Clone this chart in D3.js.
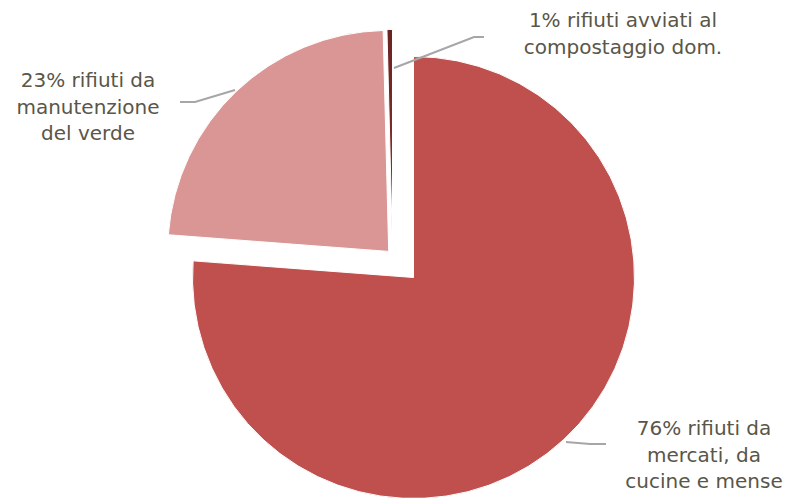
<!DOCTYPE html>
<html>
<head>
<meta charset="utf-8">
<script src="https://cdn.jsdelivr.net/npm/d3@7"></script>
<style>
  html, body { margin: 0; padding: 0; background: #fff; }
  svg { display: block; }
</style>
</head>
<body>
<svg id="chart" width="787" height="498"></svg>
<script>
// ---- data ----
const categories = ["rifiuti da mercati, da cucine e mense", "rifiuti da manutenzione del verde", "rifiuti avviati al compostaggio dom."];
const values = [76.2, 23.4, 0.4];
const percentLabels = ["76%", "23%", "1%"];
const labelLines = [
  ["76% rifiuti da", "mercati, da", "cucine e mense"],
  ["23% rifiuti da", "manutenzione", "del verde"],
  ["1% rifiuti avviati al", "compostaggio dom."]
];

// ---- layout / style ----
const W = 787, H = 498;
const cx = 413.5, cy = 277.5, R = 221;
const colors = ["#C0504D", "#D99694", "#6B2321"];
const explode = [null, 36, null];         // radial explosion (px)
const fixedOffset = [null, null, [-21, -27]];
const labelLayout = [
  { x: 704, y0: 435, leader: [[566, 442], [590, 444], [606, 444]] },
  { x: 88,  y0: 87,  leader: [[235, 90], [195, 102], [180, 102]] },
  { x: 623, y0: 27,  leader: [[394, 68], [474, 37], [484, 37]] }
];
const lineH = 26.5;

const svg = d3.select("#chart");
const pie = d3.pie().sort(null).value(d => d).startAngle(0).endAngle(2 * Math.PI);
const arcs = pie(values);
const arc = d3.arc().innerRadius(0).outerRadius(R);

const g = svg.append("g").attr("transform", `translate(${cx},${cy})`);

const defs = svg.append("defs");
const grad = defs.append("linearGradient").attr("id", "darkGrad")
  .attr("x1", 0).attr("y1", 0).attr("x2", 0).attr("y2", 1);
grad.append("stop").attr("offset", "0%").attr("stop-color", "#6B2321");
grad.append("stop").attr("offset", "100%").attr("stop-color", "#8E3431");

g.selectAll("path.slice")
  .data(arcs)
  .join("path")
  .attr("class", "slice")
  .attr("d", arc)
  .attr("fill", (d, i) => i === 2 ? "url(#darkGrad)" : colors[i])
  .attr("stroke", "#fff")
  .attr("stroke-width", 1)
  .attr("transform", (d, i) => {
    if (explode[i]) {
      const mid = (d.startAngle + d.endAngle) / 2;
      return `translate(${Math.sin(mid) * explode[i]},${-Math.cos(mid) * explode[i]})`;
    }
    if (fixedOffset[i]) return `translate(${fixedOffset[i][0]},${fixedOffset[i][1]})`;
    return null;
  });

// leader lines
const line = d3.line();
svg.selectAll("path.leader")
  .data(labelLayout)
  .join("path")
  .attr("class", "leader")
  .attr("d", d => line(d.leader))
  .attr("fill", "none")
  .attr("stroke", "#A6A6A6")
  .attr("stroke-width", 2);

// labels
labelLayout.forEach((L, i) => {
  const t = svg.append("text")
    .attr("text-anchor", "middle")
    .attr("font-family", "'Century Gothic', 'DejaVu Sans', sans-serif")
    .attr("font-size", 20)
    .attr("fill", "#5A5648");
  labelLines[i].forEach((s, k) => {
    t.append("tspan").attr("x", L.x).attr("y", L.y0 + k * lineH).text(s);
  });
});
</script>
</body>
</html>
